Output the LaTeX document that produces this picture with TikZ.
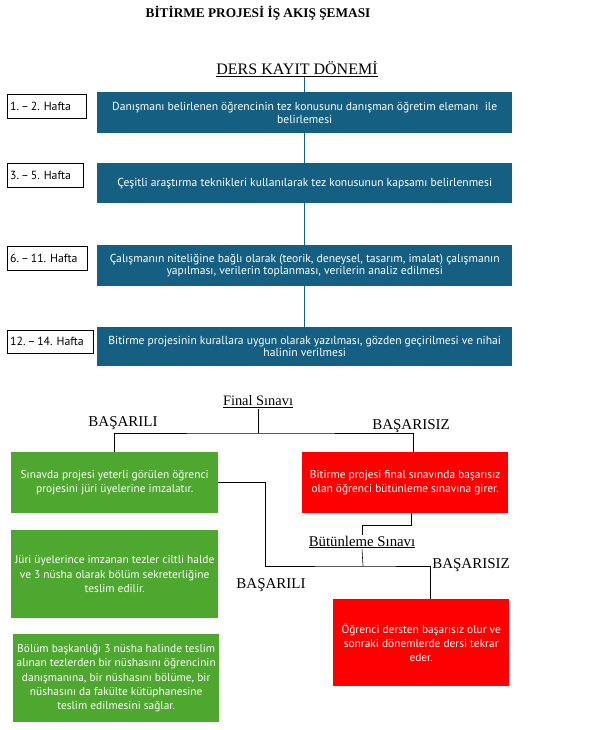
\documentclass[tikz,border=0pt]{standalone}
\usepackage{fontspec}
\setmainfont{Liberation Serif}
\newfontfamily\boxfont[Ligatures=TeX]{PT Sans}
\usepackage{xcolor}
\usetikzlibrary{positioning}

\definecolor{darkteal}{HTML}{156082}
\definecolor{okgreen}{HTML}{4EA72E}
\definecolor{failred}{HTML}{FF0000}
\frenchspacing

\begin{document}
\begin{tikzpicture}[x=1pt, y=-1pt,
        adim/.style={anchor=north west, fill=darkteal, text=white, align=center, inner sep=2pt,
            font=\boxfont\fontsize{11.6}{12.5}\selectfont},
        hafta/.style={anchor=north west, draw=black, fill=white, align=left, inner xsep=3pt,
            minimum height=24pt, font=\boxfont\fontsize{11.8}{12}\selectfont},
        gecti/.style={anchor=north west, fill=okgreen, text=white, align=center, inner sep=2pt,
            font=\boxfont\fontsize{11.4}{14.3}\selectfont},
        kaldi/.style={gecti, fill=failred},
        etiket/.style={inner sep=1pt, font=\fontsize{15}{17}\selectfont},
        hat/.style={draw=darkteal, line width=0.6pt},
        kol/.style={draw=black, line width=0.6pt}]
        % Sayfa
        \fill[white] (0,0) rectangle (590,730);
        \useasboundingbox (0,0) rectangle (590,730);

        % Baslik
        \node[font=\bfseries\fontsize{13.3}{15}\selectfont] (baslik) at (258,13) {BİTİRME PROJESİ İŞ AKIŞ ŞEMASI};
        \node[inner sep=0pt, font=\fontsize{16}{18}\selectfont] (ders) at (297,69) {\underline{DERS KAYIT DÖNEMİ}};

        % Haftalar
        \node[hafta, text width=73pt] (h1) at (7,94) {1.\,–\,2. Hafta};
        \node[hafta, text width=70pt] (h2) at (7,163) {3.\,–\,5. Hafta};
        \node[hafta, text width=74pt] (h3) at (7,246) {6.\,–\,11. Hafta};
        \node[hafta, text width=80pt, minimum height=23pt] (h4) at (7,330) {12.\,–\,14. Hafta};

        % Adimlar
        \node[adim, minimum width=415pt, minimum height=41pt] (a1) at (97,92)
            {Danışmanı belirlenen öğrencinin tez konusunu danışman öğretim elemanı\ \ ile\\ belirlemesi};
        \node[adim, minimum width=415pt, minimum height=40pt] (a2) at (97,163)
            {Çeşitli araştırma teknikleri kullanılarak tez konusunun kapsamı belirlenmesi};
        \node[adim, minimum width=415pt, minimum height=41pt] (a3) at (97,245)
            {Çalışmanın niteliğine bağlı olarak (teorik, deneysel, tasarım, imalat) çalışmanın\\ yapılması, verilerin toplanması, verilerin analiz edilmesi};
        \node[adim, minimum width=415pt, minimum height=39pt] (a4) at (97,327)
            {Bitirme projesinin kurallara uygun olarak yazılması, gözden geçirilmesi ve nihai\\ halinin verilmesi};

        \draw[hat] (a1.north |- ders.south) -- (a1.north);
        \draw[hat] (a1) -- (a2);
        \draw[hat] (a2) -- (a3);
        \draw[hat] (a3) -- (a4);

        % Final sinavi
        \node[etiket, font=\fontsize{14.4}{17}\selectfont] (final) at (258,402) {\underline{Final Sınavı}};
        \node[etiket] (basarili1) at (123,423) {BAŞARILI};
        \node[etiket] (basarisiz1) at (411,426) {BAŞARISIZ};
        \coordinate (fayrim) at (258,433);

        \node[gecti, minimum width=207pt, minimum height=61pt] (g1) at (11,452)
            {Sınavda projesi yeterli görülen öğrenci\\ projesini jüri üyelerine imzalatır.};
        \node[gecti, minimum width=207pt, minimum height=88pt] (g2) at (11,530)
            {Jüri üyelerince imzanan tezler ciltli halde\\ ve 3 nüsha olarak bölüm sekreterliğine\\ teslim edilir.};
        \node[gecti, minimum width=206pt, minimum height=88pt] (g3) at (13,634)
            {Bölüm başkanlığı 3 nüsha halinde teslim\\ alınan tezlerden bir nüshasını öğrencinin\\ danışmanına, bir nüshasını bölüme, bir\\ nüshasını da fakülte kütüphanesine\\ teslim edilmesini sağlar.};
        \node[kaldi, minimum width=206pt, minimum height=61pt] (r1) at (302,452)
            {Bitirme projesi final sınavında başarısız\\ olan öğrenci bütünleme sınavına girer.};

        \draw[kol] (final.south) -- (fayrim);
        \draw[kol] (g1.north) |- (fayrim) -| ([xshift=8pt]r1.north);

        % Butunleme sinavi
        \node[etiket, font=\fontsize{14.8}{17}\selectfont] (but) at (362,542) {\underline{Bütünleme Sınavı}};
        \node[etiket] (basarili2) at (271,585) {BAŞARILI};
        \node[etiket] (basarisiz2) at (471,565) {BAŞARISIZ};
        \coordinate (bayrim) at (363,566);

        \node[kaldi, minimum width=176pt, minimum height=87pt] (r2) at (333,599)
            {Öğrenci dersten başarısız olur ve\\ sonraki dönemlerde dersi tekrar\\ eder.};

        \draw[kol] ([xshift=6pt]r1.south) -- ++(0,12) -| (but.north);
        \draw[kol] (but.south) -- (bayrim);
        \draw[kol] (g1.east) -- ++(47,0) |- (bayrim) -| ([xshift=9pt]r2.north);
    \end{tikzpicture}
\end{document}
